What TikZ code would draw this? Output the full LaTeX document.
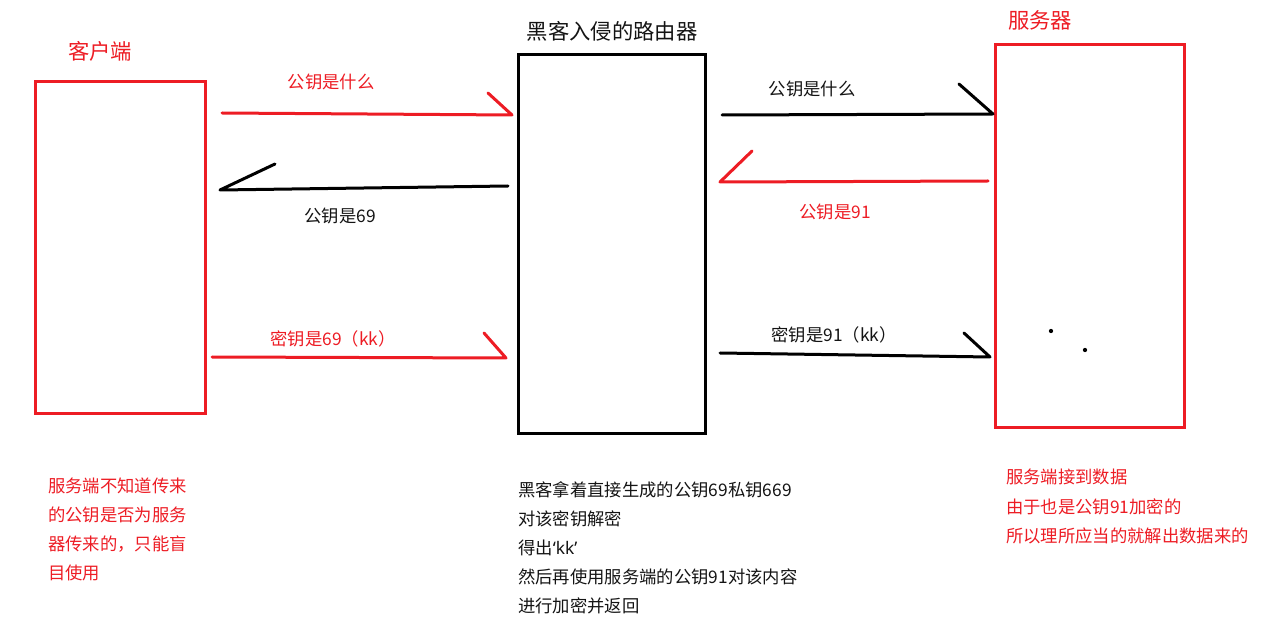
\documentclass[tikz,border=0pt]{standalone}
\usepackage{fontspec}
\setmainfont{Noto Sans CJK SC}
\newfontfamily\latinfont{Noto Sans}
\definecolor{pred}{RGB}{237,28,36}
\definecolor{ink}{RGB}{20,20,20}
\begin{document}
\begin{tikzpicture}[x=0.75pt,y=-0.75pt,
  box/.style={draw, line width=2.25pt, inner sep=0pt},
  conn/.style={line width=2.25pt, line cap=round, line join=round},
  lbl/.style={font=\fontsize{13}{15}\selectfont, inner sep=0pt},
  title/.style={font=\fontsize{16}{19}\selectfont, inner sep=0pt},
  note/.style={font=\fontsize{13}{21.75}\selectfont, inner sep=0pt, align=left, anchor=north west}]
\useasboundingbox (0,0) rectangle (1282,620);

% boxes
\node[box, draw=pred, minimum width=127.5pt, minimum height=248.25pt] (client) at (120,247.5) {};
\node[box, draw=black, minimum width=140.25pt, minimum height=283.5pt] (router) at (611.5,244) {};
\node[box, draw=pred, minimum width=141.75pt, minimum height=286.5pt] (server) at (1089.5,236) {};

% titles
\node[title, text=pred] (tclient) at (100,51) {客户端};
\node[title, text=ink] (trouter) at (612,31) {黑客入侵的路由器};
\node[title, text=pred] (tserver) at (1040,20) {服务器};

% arrow 1: client -> router (red)
\coordinate (a1s) at (222,113); \coordinate (a1e) at (512,115); \coordinate (a1b) at (488,93);
\draw[conn, pred] (a1s) -- (a1e) -- (a1b);
\node[lbl, text=pred] (l1) at (331,82) {公钥是什么};

% arrow 2: router -> client (black)
\coordinate (a2s) at (508,186); \coordinate (a2e) at (220,190); \coordinate (a2b) at (275,164);
\draw[conn, black] (a2s) -- (a2e) -- (a2b);
\node[lbl, text=ink] (l2) at (340,216) {公钥是69};

% arrow 3: client -> router (red)
\coordinate (a3s) at (212,357); \coordinate (a3e) at (506,358); \coordinate (a3b) at (484,333);
\draw[conn, pred] (a3s) -- (a3e) -- (a3b);
\node[lbl, text=pred] (l3) at (333,339) {密钥是69（kk）};

% arrow 4: router -> server (black)
\coordinate (a4s) at (722,115); \coordinate (a4e) at (993,114); \coordinate (a4b) at (959,84);
\draw[conn, black] (a4s) -- (a4e) -- (a4b);
\node[lbl, text=ink] (l4) at (812,89) {公钥是什么};

% arrow 5: server -> router (red)
\coordinate (a5s) at (988,181); \coordinate (a5e) at (720,182); \coordinate (a5b) at (752,151);
\draw[conn, pred] (a5s) -- (a5e) -- (a5b);
\node[lbl, text=pred] (l5) at (835,212) {公钥是91};

% arrow 6: router -> server (black)
\coordinate (a6s) at (720,353); \coordinate (a6e) at (990,357); \coordinate (a6b) at (964,333);
\draw[conn, black] (a6s) -- (a6e) -- (a6b);
\node[lbl, text=ink] (l6) at (834,335) {密钥是91（kk）};

% dots
\fill (1051,331) circle (1.6pt);
\fill (1085,350) circle (1.6pt);

% notes
\node[note, text=pred] (n1) at (48,478) {服务端不知道传来\\的公钥是否为服务\\器传来的，只能盲\\目使用};
\node[note, text=ink] (n2) at (518,481) {黑客拿着直接生成的公钥69私钥669\\对该密钥解密\\得出{\latinfont‘kk’}\\然后再使用服务端的公钥91对该内容\\进行加密并返回};
\node[note, text=pred, font=\fontsize{13}{22.1}\selectfont] (n3) at (1006,469) {服务端接到数据\\由于也是公钥91加密的\\所以理所应当的就解出数据来的};
\end{tikzpicture}
\end{document}
